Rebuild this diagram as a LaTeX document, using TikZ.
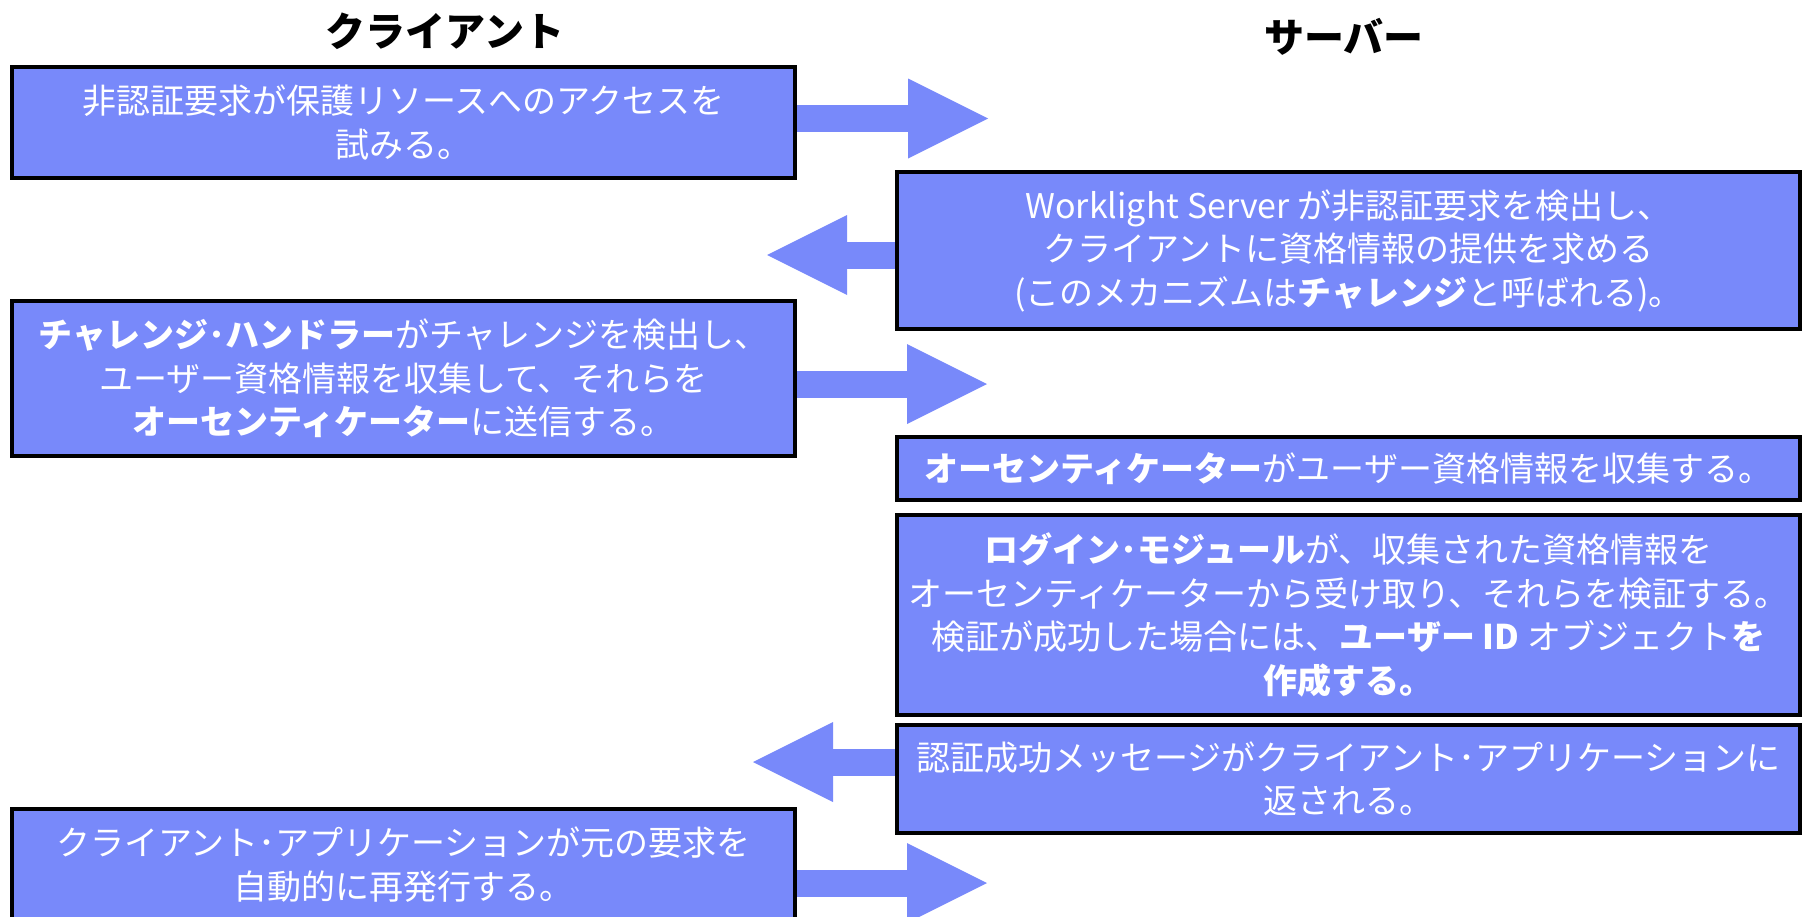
\documentclass[tikz,border=0pt]{standalone}
\usepackage{fontspec}
\setmainfont{Noto Sans CJK JP}
\usepackage{tikz}
\usetikzlibrary{positioning,arrows.meta}
\definecolor{stepblue}{RGB}{120,137,250}

\begin{document}
\begin{tikzpicture}[x=0.5pt,y=-0.5pt,
    box/.style={draw=black,line width=2pt,fill=stepblue,text=white,align=center,inner sep=0pt,font=\fontsize{17}{21.75}\selectfont},
    clientbox/.style={box,minimum width=391.5pt},
    serverbox/.style={box,minimum width=451.5pt},
    heading/.style={font=\fontsize{20}{24}\selectfont\bfseries},
    flow/.style={color=stepblue,line width=13.5pt,-{Triangle[length=40pt,width=40pt,line width=0pt,fill=stepblue]}}]
    \useasboundingbox (0,0) rectangle (1802,916);
    \node[heading] (client) at (445,31) {クライアント};
    \node[heading] (server) at (1344,37) {サーバー};
    \node[clientbox, minimum height=55.5pt] (request) at (403.5,122.5) {非認証要求が保護リソースへのアクセスを\\試みる。};
    \node[serverbox, minimum height=78.5pt] (detect) at (1348.5,250.5) {Worklight Server が非認証要求を検出し、\\クライアントに資格情報の提供を求める\\(このメカニズムは\textbf{チャレンジ}と呼ばれる)。};
    \node[clientbox, minimum height=77.5pt, below=59.5pt of request] (handler) {\textbf{チャレンジ･ハンドラー}がチャレンジを検出し、\\ユーザー資格情報を収集して、それらを\\\textbf{オーセンティケーター}に送信する。};
    \node[serverbox, minimum height=31.5pt, below=52pt of detect] (collect) {\textbf{オーセンティケーター}がユーザー資格情報を収集する。};
    \node[serverbox, minimum height=100pt, below=5.5pt of collect] (login) {\textbf{ログイン･モジュール}が、収集された資格情報を\\オーセンティケーターから受け取り、それらを検証する。\\検証が成功した場合には、\textbf{ユーザー ID} オブジェクト\textbf{を}\\\textbf{作成する。}};
    \node[serverbox, minimum height=54pt, below=3pt of login] (success) {認証成功メッセージがクライアント･アプリケーションに\\返される。};
    \node[clientbox, minimum height=55.5pt, below=174.5pt of handler] (resend) {クライアント･アプリケーションが元の要求を\\自動的に再発行する。};
    \coordinate (tipone) at (988,118.5);
    \coordinate (tiptwo) at (767,255);
    \coordinate (tipthree) at (987,384);
    \coordinate (tipfour) at (753,762);
    \coordinate (tipfive) at (987,883);
    \path[flow]
        (request.east |- tipone) edge (tipone)
        (detect.west |- tiptwo) edge (tiptwo)
        (handler.east |- tipthree) edge (tipthree)
        (success.west |- tipfour) edge (tipfour)
        (resend.east |- tipfive) edge (tipfive);
\end{tikzpicture}
\end{document}
